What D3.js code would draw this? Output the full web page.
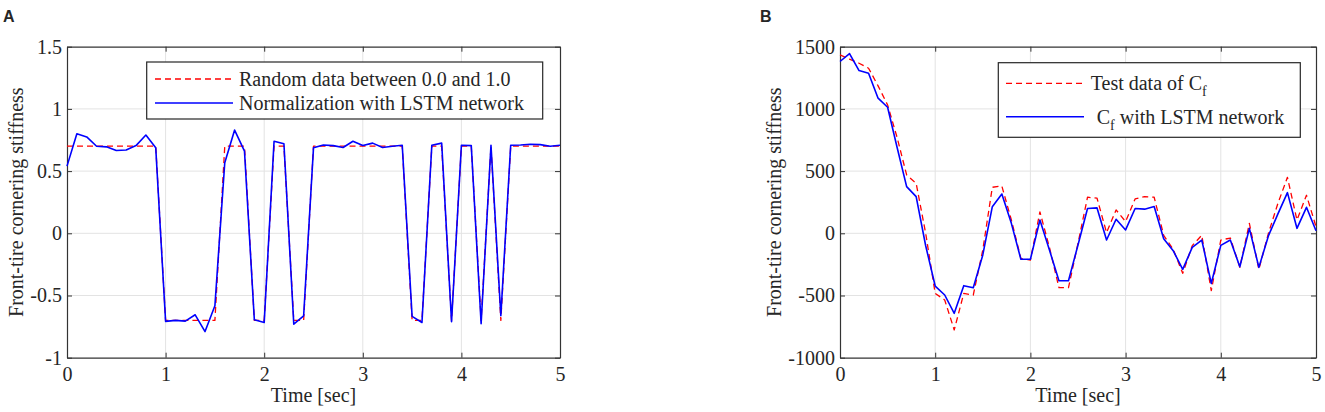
<!DOCTYPE html>
<html>
<head>
<meta charset="utf-8">
<script src="https://cdn.jsdelivr.net/npm/d3@7"></script>
<style>
  body { margin: 0; background: #fff; }
  svg text { font-family: "Liberation Serif", "Times New Roman", serif; fill: #262626; }
</style>
</head>
<body>
<div id="chart"></div>
<script>
// time samples, 0.1 s steps
const time = d3.range(51).map(i => i / 10);

// panel A
const randomData = [
  0.7, 0.7, 0.7, 0.7, 0.7, 0.7, 0.7, 0.7, 0.7, 0.7,
  -0.7, -0.7, -0.7, -0.7, -0.7, -0.7, 0.7, 0.7, 0.7, -0.7,
  -0.7, 0.7, 0.7, -0.7, -0.7, 0.7, 0.7, 0.7, 0.7, 0.7,
  0.7, 0.7, 0.7, 0.7, 0.7, -0.7, -0.7, 0.7, 0.7, -0.7,
  0.7, 0.7, -0.7, 0.7, -0.7, 0.7, 0.7, 0.7, 0.7, 0.7, 0.7
];
const normalizedLstm = [
  0.54, 0.80, 0.775, 0.70, 0.695, 0.665, 0.67, 0.705, 0.79, 0.687,
  -0.708, -0.70, -0.706, -0.655, -0.79, -0.583, 0.567, 0.83, 0.66, -0.695,
  -0.717, 0.74, 0.72, -0.73, -0.663, 0.687, 0.71, 0.705, 0.69, 0.74,
  0.705, 0.725, 0.69, 0.70, 0.708, -0.668, -0.717, 0.708, 0.725, -0.711,
  0.708, 0.705, -0.727, 0.708, -0.663, 0.708, 0.71, 0.716, 0.713, 0.70, 0.708
];

// panel B
const testCf = [
  1434, 1400, 1367, 1327, 1185, 1032, 770, 469, 402, 0,
  -483, -536, -777, -483, -496, -134, 370, 380, 107, -201,
  -215, 172, -113, -437, -437, -80, 290, 282, 5, 188,
  94, 276, 295, 290, -16, -129, -322, -99, -16, -461,
  -54, -38, -274, 80, -290, 0, 241, 450, 107, 306, 54
];
const lstmCf = [
  1381, 1445, 1308, 1287, 1086, 1013, 690, 375, 295, -100,
  -424, -496, -643, -421, -437, -174, 214, 316, 80, -209,
  -209, 107, -134, -381, -381, -94, 199, 204, -54, 113,
  27, 199, 194, 215, -43, -140, -290, -113, -54, -403,
  -97, -54, -269, 40, -274, -21, 156, 327, 40, 209, 21
];

const xTicks = [0, 1, 2, 3, 4, 5];
const yTicksA = [-1, -0.5, 0, 0.5, 1, 1.5];
const yTicksB = [-1000, -500, 0, 500, 1000, 1500];

const serif = "'Liberation Serif', 'Times New Roman', serif";

const svg = d3.select("#chart").append("svg")
  .attr("width", 1325)
  .attr("height", 412);

const drawPanel = (opts) => {
  const { left, right, top, bottom, yDomain, yTicks, series, letter, letterX, labelX, legend } = opts;

  const x = d3.scaleLinear().domain([0, 5]).range([left, right]);
  const y = d3.scaleLinear().domain(yDomain).range([bottom, top]);

  const g = svg.append("g");

  // grid
  g.append("g").selectAll("line")
    .data(xTicks.slice(1, -1))
    .join("line")
    .attr("x1", d => x(d)).attr("x2", d => x(d))
    .attr("y1", top).attr("y2", bottom)
    .attr("stroke", "#e3e3e3").attr("stroke-width", 1);

  g.append("g").selectAll("line")
    .data(yTicks.slice(1, -1))
    .join("line")
    .attr("x1", left).attr("x2", right)
    .attr("y1", d => y(d)).attr("y2", d => y(d))
    .attr("stroke", "#e3e3e3").attr("stroke-width", 1);

  // axes, ticks pointing inward
  const fmt = d => String(d);
  const bottomAxis = g.append("g")
    .attr("transform", `translate(0,${bottom})`)
    .call(d3.axisBottom(x).tickValues(xTicks).tickSizeInner(-5).tickSizeOuter(0).tickPadding(9).tickFormat(fmt));
  const topAxis = g.append("g")
    .attr("transform", `translate(0,${top})`)
    .call(d3.axisTop(x).tickValues(xTicks).tickSizeInner(-5).tickSizeOuter(0).tickFormat(""));
  const leftAxis = g.append("g")
    .attr("transform", `translate(${left},0)`)
    .call(d3.axisLeft(y).tickValues(yTicks).tickSizeInner(-5).tickSizeOuter(0).tickPadding(5).tickFormat(fmt));
  const rightAxis = g.append("g")
    .attr("transform", `translate(${right},0)`)
    .call(d3.axisRight(y).tickValues(yTicks).tickSizeInner(-5).tickSizeOuter(0).tickFormat(""));

  [bottomAxis, topAxis, leftAxis, rightAxis].forEach(a => {
    a.attr("font-family", serif).attr("font-size", 20);
    a.selectAll("path").attr("stroke", "#333").attr("stroke-width", 1.2);
    a.selectAll("line").attr("stroke", "#333");
    a.selectAll("text")
      .attr("font-family", serif)
      .attr("font-size", 20)
      .attr("fill", "#262626");
  });

  // data lines
  const line = d3.line()
    .x((d, i) => x(time[i]))
    .y(d => y(d));

  series.forEach(s => {
    g.append("path")
      .datum(s.values)
      .attr("fill", "none")
      .attr("stroke", s.colour)
      .attr("stroke-width", s.width)
      .attr("stroke-dasharray", s.dash)
      .attr("stroke-linejoin", "round")
      .attr("d", line);
  });

  // axis labels
  g.append("text")
    .attr("x", (left + right) / 2)
    .attr("y", 402)
    .attr("text-anchor", "middle")
    .attr("font-size", 20)
    .text("Time [sec]");

  g.append("text")
    .attr("transform", `translate(${labelX},${(top + bottom) / 2}) rotate(-90)`)
    .attr("text-anchor", "middle")
    .attr("font-size", 20)
    .text("Front-tire cornering stiffness");

  // panel letter
  svg.append("text")
    .attr("x", letterX)
    .attr("y", 22)
    .style("font-family", "'Liberation Sans', Arial, sans-serif")
    .style("font-weight", "bold")
    .style("font-size", "16px")
    .attr("fill", "#111")
    .text(letter);

  // legend
  const lg = g.append("g");
  lg.append("rect")
    .attr("x", legend.x).attr("y", legend.y)
    .attr("width", legend.w).attr("height", legend.h)
    .attr("fill", "#fff").attr("stroke", "#262626").attr("stroke-width", 1.2);

  legend.items.forEach((it, i) => {
    const s = series[i];
    lg.append("line")
      .attr("x1", legend.lineX1).attr("x2", legend.lineX2)
      .attr("y1", it.y).attr("y2", it.y)
      .attr("stroke", s.colour)
      .attr("stroke-width", s.width)
      .attr("stroke-dasharray", s.dash);
    const t = lg.append("text")
      .attr("x", it.textX)
      .attr("y", it.y + 7)
      .attr("font-size", 20);
    let shifted = false;
    it.parts.forEach(p => {
      const ts = t.append("tspan").text(p.text);
      if (p.sub) {
        ts.attr("dy", 6).attr("font-size", 14);
        shifted = true;
      } else if (shifted) {
        ts.attr("dy", -6);
        shifted = false;
      }
    });
  });
};

drawPanel({
  left: 67, right: 560, top: 46.7, bottom: 357.7,
  yDomain: [-1, 1.5], yTicks: yTicksA,
  letter: "A", letterX: 3, labelX: 23,
  series: [
    { values: randomData, colour: "#ff0000", width: 1.3, dash: "6,4" },
    { values: normalizedLstm, colour: "#0000ff", width: 1.6, dash: null }
  ],
  legend: {
    x: 146.7, y: 62, w: 396, h: 57, lineX1: 155, lineX2: 233,
    items: [
      { y: 79, textX: 239, parts: [{ text: "Random data between 0.0 and 1.0" }] },
      { y: 103, textX: 239, parts: [{ text: "Normalization with LSTM network" }] }
    ]
  }
});

drawPanel({
  left: 840, right: 1316, top: 46.7, bottom: 357.7,
  yDomain: [-1000, 1500], yTicks: yTicksB,
  letter: "B", letterX: 760, labelX: 781,
  series: [
    { values: testCf, colour: "#ff0000", width: 1.3, dash: "6,4" },
    { values: lstmCf, colour: "#0000ff", width: 1.6, dash: null }
  ],
  legend: {
    x: 998.3, y: 62.7, w: 302, h: 74.6, lineX1: 1006, lineX2: 1084,
    items: [
      { y: 83.3, textX: 1090.7, parts: [{ text: "Test data of C" }, { text: "f", sub: true }] },
      { y: 116.7, textX: 1096.7, parts: [{ text: "C" }, { text: "f", sub: true }, { text: " with LSTM network" }] }
    ]
  }
});
</script>
</body>
</html>
